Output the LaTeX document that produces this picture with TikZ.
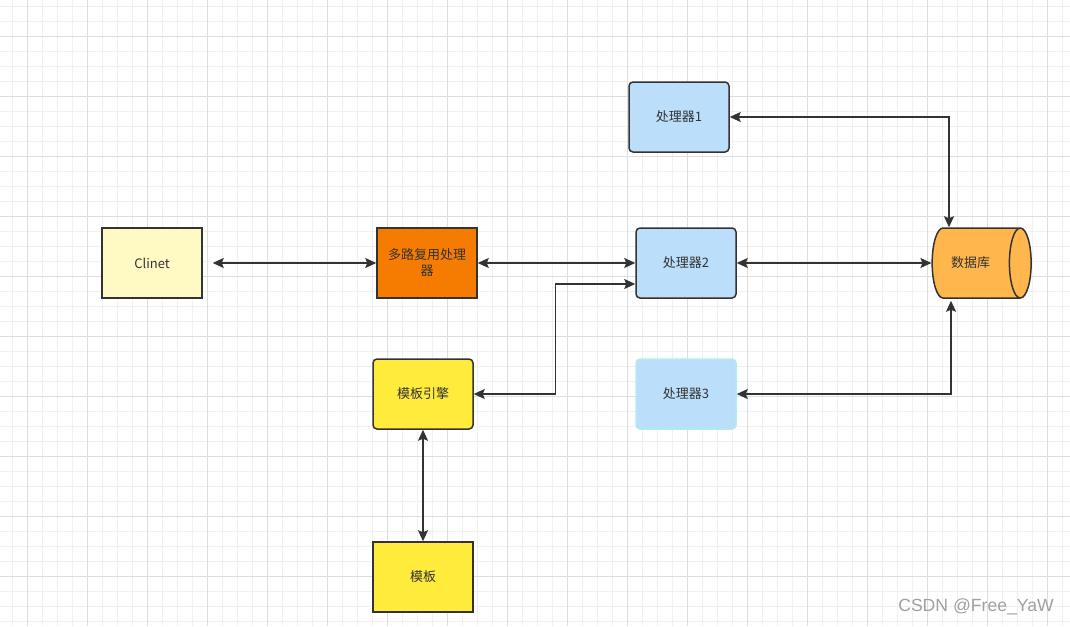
\documentclass[tikz,border=0pt]{standalone}
\usepackage{fontspec}
\setmainfont{Noto Sans CJK SC}
\newfontfamily\markfont{Liberation Sans}
\usetikzlibrary{arrows.meta,shapes.geometric,calc}
\definecolor{gridminor}{RGB}{240,240,240}
\definecolor{gridmajor}{RGB}{222,222,222}
\definecolor{linedark}{RGB}{51,51,51}
\definecolor{clientfill}{RGB}{255,249,196}
\definecolor{muxfill}{RGB}{245,124,0}
\definecolor{procfill}{RGB}{187,222,251}
\definecolor{procthree}{RGB}{178,235,242}
\definecolor{dbfill}{RGB}{255,183,77}
\definecolor{tplfill}{RGB}{255,235,59}
\definecolor{markgray}{RGB}{160,160,160}

\begin{document}
\begin{tikzpicture}[x=1pt,y=-1pt,
    box/.style={draw=linedark, line width=1.5pt, minimum width=100pt, minimum height=70pt,
        text=linedark, font=\fontsize{13}{16}\selectfont, align=center, inner sep=2pt},
    roundbox/.style={box, rounded corners=4pt},
    link/.style={draw=linedark, line width=1.4pt, <->, >={Stealth[length=11pt,width=10pt,inset=2pt]}}]
\useasboundingbox[fill=white] (0,0) rectangle (1070,626);

    % Grid
    \foreach \x in {12.3,27.3,...,1070} {
        \draw[gridminor, line width=1pt] (\x,0) -- (\x,626);
    }
    \foreach \y in {6.7,21.7,...,626} {
        \draw[gridminor, line width=1pt] (0,\y) -- (1070,\y);
    }
    \foreach \x in {27.3,87.3,...,1070} {
        \draw[gridmajor, line width=1pt] (\x,0) -- (\x,626);
    }
    \foreach \y in {36.7,96.7,...,626} {
        \draw[gridmajor, line width=1pt] (0,\y) -- (1070,\y);
    }

    % Boxes
    \node[box, fill=clientfill] (client) at (152,263) {Clinet};
    \node[box, fill=muxfill] (mux) at (427,263) {多路复用处理\\器};
    \node[roundbox, fill=procfill] (proc1) at (679,117) {处理器1};
    \node[roundbox, fill=procfill] (proc2) at (686,263) {处理器2};
    \node[roundbox, fill=procfill, draw=procthree] (proc3) at (686,394) {处理器3};
    \node[roundbox, fill=tplfill] (engine) at (423,394) {模板引擎};
    \node[box, fill=tplfill] (tpl) at (423,577) {模板};
    \node[box, cylinder, aspect=0.315, shape border rotate=0, fill=dbfill, inner ysep=28.5pt,
        minimum width=70pt, minimum height=99pt] (db) at (970.5,263) {数据库};

    % Connectors
    \draw[link, shorten <=10pt] (client.east) -- (mux.west);
    \draw[link] (mux.east) -- (proc2.west);
    \draw[link] (proc2.east) -- (db.west);
    \draw[link] ([yshift=-21pt]proc2.west) -| ([xshift=82pt]engine.east) -- (engine.east);
    \draw[link] (proc1.east) -| ([xshift=-21.5pt]db.north);
    \draw[link] (proc3.east) -| ([xshift=-19.5pt,yshift=-2pt]db.south);
    \draw[link] (engine.south) -- (tpl.north);

    % Watermark
    \node[markgray, font=\markfont\fontsize{17.6}{20}\selectfont] (mark) at (976,607) {CSDN @Free\_YaW};
\end{tikzpicture}
\end{document}
